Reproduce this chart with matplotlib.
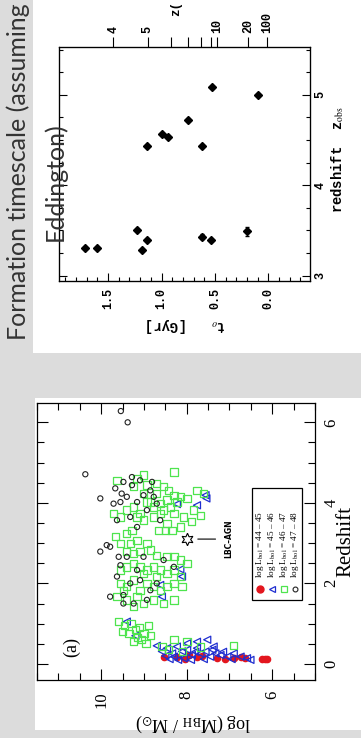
import matplotlib
matplotlib.use('Agg')
import matplotlib.pyplot as plt
from matplotlib.patches import Rectangle
from matplotlib.ticker import MultipleLocator, FixedLocator

plt.rcParams['mathtext.fontset'] = 'stix'

# ---------------- data: top panel (formation timescale) ----------------
t_o = [1.72, 1.60, 1.18, 1.14, 1.23, 0.62, 0.54, 0.20, 1.14, 1.00, 0.94, 0.75, 0.62, 0.53, 0.10]
z_obs = [3.31, 3.30, 3.28, 3.39, 3.51, 3.43, 3.39, 3.49, 4.43, 4.57, 4.53, 4.72, 4.43, 5.09, 5.00]
z_obs_err = [0, 0, 0, 0, 0, 0.03, 0, 0.05, 0, 0, 0, 0, 0, 0, 0]
zf_tick_t = [1.45, 1.13, 0.91, 0.75, 0.63, 0.54, 0.48, 0.19, 0.01]
zf_tick_labels = ['4', '5', '', '', '', '', '10', '20', '100']

# ---------------- data: bottom panel (BH mass vs redshift) ----------------
red_logM = [8.54, 8.23, 7.95, 7.76, 7.64, 6.90, 6.74, 6.63, 6.23, 6.16, 6.12, 7.30, 7.10, 8.05]
red_z = [0.18, 0.18, 0.22, 0.18, 0.20, 0.14, 0.17, 0.14, 0.12, 0.12, 0.12, 0.15, 0.12, 0.12]

blue_logM = [7.56, 7.54, 7.76, 8.23, 8.15, 8.11, 8.58, 8.62, 9.40, 9.20, 8.70,
             8.58, 8.46, 8.34, 8.23, 8.11, 7.99, 7.88, 7.76, 7.68, 7.56, 7.45, 7.33,
             7.21, 7.05, 6.90, 6.74, 6.59, 6.51, 7.99, 7.76, 7.52, 7.37, 8.30, 8.07,
             8.50, 8.20, 7.90, 7.60, 7.40, 7.15, 6.95, 7.80, 8.40]
blue_z = [4.19, 4.11, 3.94, 3.97, 2.35, 2.17, 1.67, 1.96, 1.05, 0.70, 0.45,
          0.31, 0.39, 0.26, 0.43, 0.31, 0.35, 0.22, 0.39, 0.26, 0.31, 0.18, 0.26,
          0.22, 0.18, 0.26, 0.18, 0.14, 0.10, 0.51, 0.55, 0.60, 0.43, 0.18, 0.14,
          0.20, 0.10, 0.10, 0.12, 0.35, 0.30, 0.12, 0.30, 0.12]

green_logM = [8.30, 9.01, 9.16, 9.63, 9.24, 8.93, 8.70, 8.54, 8.42, 8.30,
              8.15, 7.99, 8.23, 8.46, 8.70, 8.85, 9.01, 9.24, 9.09, 9.40,
              9.55, 9.71, 9.01, 8.77, 8.62, 8.46, 8.30, 8.07, 7.88, 8.15,
              7.84, 7.68, 7.60, 7.76, 8.62, 8.77, 8.93, 8.38, 8.54, 9.16,
              8.66, 8.50, 8.34, 9.28, 9.40,
              9.67, 9.55, 9.32, 9.16, 8.93, 9.40, 9.24, 9.09, 8.85, 8.70,
              8.46, 8.30, 8.15, 9.55, 9.40, 9.24, 9.09, 8.93, 8.77, 8.62,
              8.46, 8.30, 8.15, 9.55, 9.40, 9.24, 9.09, 8.93, 8.77, 8.62,
              8.46, 8.30, 8.11, 9.63, 9.40, 9.16, 9.01, 8.77, 8.54, 8.30,
              9.24, 9.48, 7.99, 8.70, 9.01,
              9.60, 9.45, 9.30, 9.20, 9.10, 9.00, 8.90, 9.35, 9.15, 9.05,
              8.85, 9.25, 9.50, 8.95,
              8.58, 8.30, 7.99, 7.68, 6.90, 8.42, 8.10]
green_z = [4.77, 4.69, 4.60, 4.56, 4.40, 4.44, 4.48, 4.40, 4.31, 4.19,
           4.15, 4.11, 4.02, 4.07, 4.23, 4.02, 4.23, 3.90, 3.74, 3.82,
           3.65, 3.74, 3.57, 3.65, 3.74, 3.49, 3.74, 3.65, 3.53, 3.40,
           3.82, 3.69, 4.23, 4.31, 3.98, 3.90, 4.02, 3.90, 3.82, 3.65,
           3.32, 3.32, 3.32, 3.32, 3.24,
           3.16, 2.99, 2.99, 3.07, 2.99, 2.79, 2.74, 2.79, 2.83, 2.70,
           2.66, 2.66, 2.58, 2.33, 2.41, 2.50, 2.41, 2.33, 2.41, 2.33,
           2.25, 2.33, 2.17, 2.00, 1.92, 2.08, 1.83, 2.00, 1.92, 1.83,
           1.92, 2.00, 1.92, 1.67, 1.59, 1.67, 1.50, 1.59, 1.50, 1.59,
           1.42, 1.83, 2.50, 2.17, 2.25,
           1.05, 0.95, 1.00, 0.85, 0.90, 0.75, 0.95, 0.75, 0.65, 0.60,
           0.70, 0.55, 0.80, 0.50,
           0.43, 0.60, 0.55, 0.42, 0.45, 0.35, 0.30]

black_logM = [10.37, 10.02, 9.67, 9.71, 9.48, 9.52, 9.40, 9.28, 9.16, 9.63,
              9.32, 9.16, 8.85, 8.77, 9.09, 8.62, 8.70, 8.93, 9.28, 9.55,
              9.01, 8.81, 9.54, 9.38,
              10.02, 9.87, 9.79, 9.63, 9.79, 9.48, 9.59, 9.40, 9.16, 9.09,
              9.01, 8.85, 8.70, 8.54, 8.30, 9.24, 9.32, 9.55, 9.48, 8.93]
black_z = [4.71, 4.11, 4.36, 3.98, 4.52, 4.23, 4.15, 4.44, 4.02, 3.57,
           3.65, 3.40, 4.31, 4.15, 4.56, 3.57, 3.98, 3.82, 4.64, 4.02,
           4.19, 4.52, 6.28, 6.00,
           2.79, 2.95, 2.91, 2.17, 1.67, 1.71, 2.66, 2.66, 2.33, 2.08,
           2.66, 1.83, 2.00, 2.58, 2.41, 1.50, 2.00, 2.45, 1.50, 1.59]

lbc_logM = [8.0]
lbc_z = [3.1]

legend_labels = ['log L$_{\\rm bol}$ = 44 \u2013 45', 'log L$_{\\rm bol}$ = 45 \u2013 46',
                 'log L$_{\\rm bol}$ = 46 \u2013 47', 'log L$_{\\rm bol}$ = 47 \u2013 48']

# ---------------- figure ----------------
W, H = 361, 738
fig = plt.figure(figsize=(W / 100, H / 100), dpi=100, facecolor='#dcdcdc')


def fx(px):
    return px / W


def fy(py):
    return 1 - py / H


fig.patches.append(Rectangle((fx(33), fy(353)), 1 - fx(33), fy(0) - fy(353),
                             transform=fig.transFigure, facecolor='white', edgecolor='none', zorder=-10))
fig.patches.append(Rectangle((fx(35), fy(730)), 1 - fx(35), fy(398) - fy(730),
                             transform=fig.transFigure, facecolor='white', edgecolor='none', zorder=-10))

# ---------------- top panel ----------------
mono = dict(family='Liberation Mono', weight='bold')
ax1 = fig.add_axes([fx(59), fy(281), fx(310) - fx(59), fy(47) - fy(281)])
ax1.set_facecolor('white')
ax1.set_xlim(1.96, -0.39)
ax1.set_ylim(2.94, 5.53)
ax1.errorbar(t_o, z_obs, yerr=z_obs_err, linestyle='none', marker='D', ms=4, color='black',
             ecolor='black', elinewidth=0.8, capsize=1.5)
ax1.xaxis.set_major_locator(MultipleLocator(0.5))
ax1.xaxis.set_minor_locator(MultipleLocator(0.1))
ax1.yaxis.set_major_locator(MultipleLocator(1))
ax1.yaxis.set_minor_locator(MultipleLocator(0.25))
ax1.tick_params(which='both', direction='in', top=True, bottom=True, left=True, right=True,
                labelleft=False, labelright=True, labelbottom=True, labeltop=False, width=0.8)
ax1.tick_params(which='major', length=6)
ax1.tick_params(which='minor', length=3)
ax1.tick_params(axis='x', pad=5)
ax1.tick_params(axis='y', pad=3)
for lab in ax1.get_xticklabels() + ax1.get_yticklabels():
    lab.set_rotation(90)
    lab.set_fontfamily('Liberation Mono')
    lab.set_fontweight('bold')
    lab.set_fontsize(8.5)
for lab in ax1.get_yticklabels():
    lab.set_verticalalignment('center')
for sp in ax1.spines.values():
    sp.set_linewidth(0.9)
ax1.text(0.506, -0.19, 't$_o$   [Gyr]', transform=ax1.transAxes, rotation=180,
         ha='center', va='center', fontsize=10, **mono)
ax1.text(1.11, 0.52, 'redshift  z$_{\\rm obs}$', transform=ax1.transAxes, rotation=90,
         ha='center', va='center', fontsize=10, **mono)

ax1t = ax1.twiny()
ax1t.set_xlim(ax1.get_xlim())
ax1t.xaxis.set_major_locator(FixedLocator(zf_tick_t))
ax1t.set_xticklabels(zf_tick_labels)
ax1t.tick_params(axis='x', direction='out', length=7, width=0.8, pad=3, top=True, bottom=False)
for lab in ax1t.get_xticklabels():
    lab.set_rotation(90)
    lab.set_fontfamily('Liberation Mono')
    lab.set_fontweight('bold')
    lab.set_fontsize(8.5)
fig.text(fx(176), fy(8), 'z(', rotation=90, ha='center', va='center', fontsize=9, **mono)

# ---------------- bottom panel ----------------
ax2 = fig.add_axes([fx(37), fy(680), fx(315) - fx(37), fy(403) - fy(680)])
ax2.set_facecolor('white')
ax2.set_xlim(11.5, 5.0)
ax2.set_ylim(-0.4, 6.48)
ax2.scatter(red_logM, red_z, s=20, marker='o', color='#e3161e', zorder=3)
ax2.scatter(blue_logM, blue_z, s=26, marker='<', facecolors='none', edgecolors='#1f2ed0', linewidths=0.9, zorder=4)
ax2.scatter(green_logM, green_z, s=28, marker='s', facecolors='none', edgecolors='#4ee44e', linewidths=0.9, zorder=5)
ax2.scatter(black_logM, black_z, s=14, marker='o', facecolors='none', edgecolors='#222222', linewidths=0.8, zorder=6)
ax2.plot(lbc_logM, lbc_z, linestyle='none', marker=(6, 1, 0), ms=9, mfc='none', mec='black', mew=0.8, zorder=7)
ax2.annotate('LBC\u2013AGN', xy=(lbc_logM[0], lbc_z[0]), xytext=(30, 0), textcoords='offset points',
             rotation=90, ha='center', va='center', fontsize=5.5, family='DejaVu Sans', weight='bold',
             arrowprops=dict(arrowstyle='-', lw=0.8, color='black', shrinkA=4, shrinkB=8))

ax2.xaxis.set_major_locator(MultipleLocator(2))
ax2.xaxis.set_minor_locator(MultipleLocator(0.5))
ax2.yaxis.set_major_locator(MultipleLocator(2))
ax2.yaxis.set_minor_locator(MultipleLocator(0.5))
ax2.tick_params(which='both', direction='in', top=True, bottom=True, left=True, right=True,
                labelleft=False, labelright=True, labelbottom=True, labeltop=False, width=0.8)
ax2.tick_params(which='major', length=8)
ax2.tick_params(which='minor', length=5)
ax2.tick_params(axis='x', pad=8)
ax2.tick_params(axis='y', pad=6)
for lab in ax2.get_xticklabels() + ax2.get_yticklabels():
    lab.set_rotation(90)
    lab.set_fontfamily('Liberation Serif')
    lab.set_fontsize(12)
for lab in ax2.get_yticklabels():
    lab.set_verticalalignment('center')
for sp in ax2.spines.values():
    sp.set_linewidth(0.9)
ax2.text(0.561, -0.155, 'log (M$_{\\rm BH}$ / M$_{\\odot}$)', transform=ax2.transAxes, rotation=180,
         ha='center', va='center', fontsize=13, family='Liberation Serif')
ax2.text(1.11, 0.5, 'Redshift', transform=ax2.transAxes, rotation=90,
         ha='center', va='center', fontsize=15, family='Liberation Serif')
ax2.text(0.126, 0.12, '(a)', transform=ax2.transAxes, rotation=90,
         ha='center', va='center', fontsize=13, family='Liberation Serif')

# legend (rotated with the panel)
lx0, lx1, ly0, ly1 = 0.773, 0.953, 0.289, 0.693
ax2.add_patch(Rectangle((lx0, ly0), lx1 - lx0, ly1 - ly0, transform=ax2.transAxes,
                        facecolor='white', edgecolor='black', lw=0.9, zorder=8))
leg_x = [0.803, 0.845, 0.887, 0.929]
leg_styles = [dict(marker='o', color='#e3161e', ms=5),
              dict(marker='<', mfc='none', mec='#1f2ed0', ms=5, mew=0.9),
              dict(marker='s', mfc='none', mec='#4ee44e', ms=5, mew=0.9),
              dict(marker='o', mfc='none', mec='#222222', ms=3.5, mew=0.8)]
for xx, st, lab in zip(leg_x, leg_styles, legend_labels):
    ax2.plot([xx], [0.33], transform=ax2.transAxes, linestyle='none', zorder=9, clip_on=False, **st)
    ax2.text(xx, 0.37, lab, transform=ax2.transAxes, rotation=90, ha='center', va='bottom',
             fontsize=6.6, family='Liberation Serif', zorder=9)

# ---------------- slide title ----------------
fig.text(fx(26), fy(340), 'Formation timescale (assuming', rotation=90, rotation_mode='anchor',
         ha='left', va='baseline', fontsize=18, family='Lato', color='#333333')
fig.text(fx(63), fy(241), 'Eddington)', rotation=90, rotation_mode='anchor',
         ha='left', va='baseline', fontsize=18, family='Lato', color='#333333')

fig.savefig('out.png', dpi=100, facecolor=fig.get_facecolor())
